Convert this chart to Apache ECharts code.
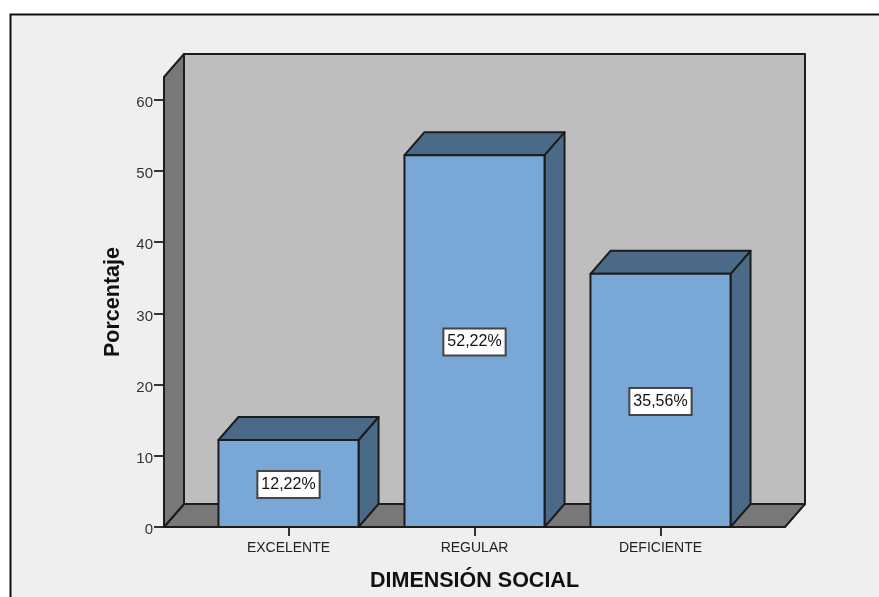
<!DOCTYPE html>
<html><head><meta charset="utf-8">
<style>html,body{margin:0;padding:0;background:#fff}#c{width:879px;height:597px}</style>
<script src="https://cdn.jsdelivr.net/npm/echarts@6/dist/echarts.min.js"></script>
</head><body><div id="c"></div>
<script>
const categories = ['EXCELENTE', 'REGULAR', 'DEFICIENTE'];
const values = [12.22, 52.22, 35.56];
const yTicks = [0, 10, 20, 30, 40, 50, 60];
const yTop = 63.2;

const DX = 20, DY = 23, PAD = 31.5, BAR_FRAC = 0.753;
const EDGE = '#1c1c1c';
const edge = { stroke: EDGE, lineWidth: 2, lineJoin: 'round' };
const poly = (points, fill) => ({ type: 'polygon', shape: { points }, style: Object.assign({ fill }, edge) });

function renderWalls(params, api) {
  const c = params.coordSys;
  const l = c.x - PAD, r = c.x + c.width + PAD, t = c.y, b = c.y + c.height;
  return { type: 'group', children: [
    poly([[l + DX, t - DY], [r + DX, t - DY], [r + DX, b - DY], [l + DX, b - DY]], '#bebebe'),
    poly([[l, b], [l + DX, b - DY], [r + DX, b - DY], [r, b]], '#787878'),
    poly([[l, t], [l + DX, t - DY], [l + DX, b - DY], [l, b]], '#787878')
  ]};
}

function renderBar(params, api) {
  const p = api.coord([api.value(0), api.value(1)]);
  const base = api.coord([api.value(0), 0]);
  const w = api.size([1, 0])[0] * BAR_FRAC;
  const x0 = p[0] - w / 2, x1 = p[0] + w / 2, y = p[1], b = base[1];
  const txt = api.value(1).toFixed(2).replace('.', ',') + '%';
  return { type: 'group', children: [
    poly([[x1, y], [x1 + DX, y - DY], [x1 + DX, b - DY], [x1, b]], '#4a6a88'),
    poly([[x0, y], [x0 + DX, y - DY], [x1 + DX, y - DY], [x1, y]], '#4a6a88'),
    poly([[x0, y], [x1, y], [x1, b], [x0, b]], '#7aa8d6'),
    { type: 'text', x: p[0], y: (y + b) / 2 + 1, style: {
        text: txt, fill: '#111', font: '16px "Liberation Sans"', align: 'center', verticalAlign: 'middle',
        backgroundColor: '#fff', borderColor: '#444', borderWidth: 2, padding: [5, 3, 4, 3] } }
  ]};
}

const chart = echarts.init(document.getElementById('c'), null, { renderer: 'canvas' });
chart.setOption({
  animation: false,
  backgroundColor: '#fff',
  graphic: [{ type: 'rect', z: -10, shape: { x: 10.5, y: 14.5, width: 900, height: 620 },
              style: { fill: '#efefef', stroke: '#111', lineWidth: 2 } }],
  grid: { left: 164 + PAD, right: 879 - 785 + PAD, top: 77, bottom: 70, outerBoundsMode: 'none' },
  xAxis: {
    type: 'category', data: categories,
    axisLine: { show: false },
    axisTick: { show: true, alignWithLabel: true, length: 9, lineStyle: { color: '#333', width: 2 } },
    axisLabel: { margin: 14, color: '#222', fontFamily: 'Liberation Sans', fontSize: 14 },
    name: 'DIMENSIÓN SOCIAL', nameLocation: 'middle', nameGap: 43,
    nameTextStyle: { color: '#111', fontFamily: 'Liberation Sans', fontSize: 21.5, fontWeight: 'bold' }
  },
  yAxis: {
    type: 'value', min: 0, max: yTop, offset: PAD, splitLine: { show: false },
    axisLine: { show: false },
    axisTick: { show: true, length: 10, customValues: yTicks, lineStyle: { color: '#333', width: 2 } },
    axisLabel: { margin: 11, customValues: yTicks, formatter: '{t|{value}}',
      rich: { t: { color: '#333', fontFamily: 'Liberation Sans', fontSize: 15, padding: [6, 0, 0, 0] } } },
    name: 'Porcentaje', nameLocation: 'middle', nameGap: 40, nameRotate: 90,
    nameTextStyle: { color: '#111', fontFamily: 'Liberation Sans', fontSize: 21.5, fontWeight: 'bold' }
  },
  series: [
    { type: 'custom', silent: true, clip: false, renderItem: renderWalls, data: [[0, 0]], z: 1 },
    { type: 'custom', silent: true, clip: false, renderItem: renderBar, z: 2,
      data: categories.map((c, i) => [i, values[i]]) }
  ]
});
</script></body></html>
